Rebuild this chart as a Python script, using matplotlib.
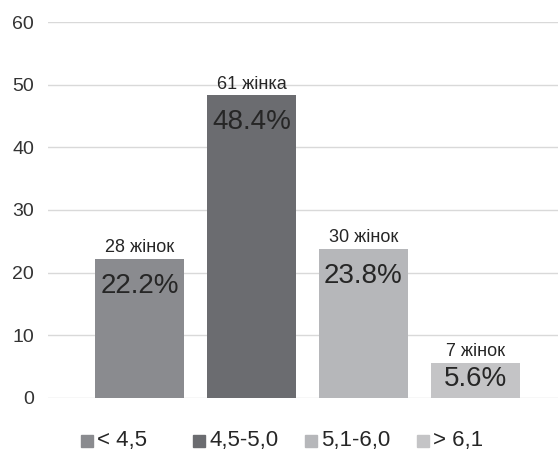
import matplotlib
matplotlib.use("Agg")
import matplotlib.pyplot as plt
import matplotlib.transforms as mtransforms

plt.rcParams['font.family'] = ['Liberation Sans', 'DejaVu Sans']

# data
groups = ['< 4,5', '4,5-5,0', '5,1-6,0', '> 6,1']
percents = [22.2, 48.4, 23.8, 5.6]
counts = ['28 жінок', '61 жінка', '30 жінок', '7 жінок']
colors = ['#8a8b8f', '#6b6c70', '#b6b7ba', '#c4c4c6']
yticks = [0, 10, 20, 30, 40, 50, 60]

fig = plt.figure(figsize=(5.58, 4.5), dpi=100)
ax = fig.add_axes([48 / 558, 52.5 / 450, 1 - 48 / 558, 375 / 450])

x = list(range(len(groups)))
ax.bar(x, percents, width=0.795, color=colors, zorder=2)

ax.set_ylim(0, 60)
ax.set_xlim(-0.817, 3.737)
ax.set_yticks(yticks)
ax.set_xticks([])
ax.yaxis.grid(True, color='#d9d9d9', linewidth=1, zorder=0)
ax.tick_params(axis='y', length=0, pad=10, labelsize=14, labelcolor='#333333')
for s in ax.spines.values():
    s.set_visible(False)

# labels above and inside the bars
for i, v in enumerate(percents):
    ax.annotate(counts[i], (i, v), xytext=(0, 4.5), textcoords='offset points',
                ha='center', va='baseline', fontsize=13, color='#262626')
    base = max(v - 5.44, 1.76)
    ax.text(i, base, f'{v}%', ha='center', va='baseline', fontsize=20,
            color='#262626')

# legend, one entry per category slot
trans = mtransforms.blended_transform_factory(ax.transData, ax.transAxes)
for i, g in enumerate(groups):
    ax.plot([i - 0.469], [-0.115], marker='s', markersize=8.4, color=colors[i],
            linestyle='none', transform=trans, clip_on=False)
    ax.text(i - 0.375, -0.115, g, transform=trans, ha='left', va='center',
            fontsize=16, color='#262626')

fig.savefig('out.png', dpi=100, facecolor='white')
